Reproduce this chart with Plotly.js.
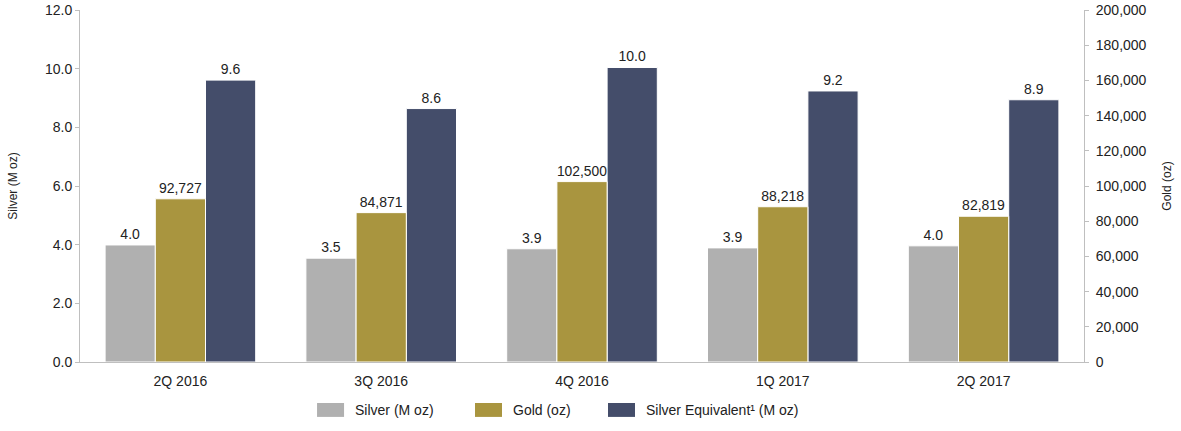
<!DOCTYPE html>
<html>
<head>
<meta charset="utf-8">
<script src="https://cdn.plot.ly/plotly-3.0.1.min.js"></script>
<style>html,body{margin:0;padding:0;background:#fff;}#chart{width:1181px;height:431px;}</style>
</head>
<body>
<div id="chart"></div>
<script>
const quarters = ["2Q 2016", "3Q 2016", "4Q 2016", "1Q 2017", "2Q 2017"];
const silverMoz = [3.99, 3.54, 3.86, 3.89, 3.96];
const goldOz = [92727, 84871, 102500, 88218, 82819];
const silverEqMoz = [9.61, 8.64, 10.04, 9.24, 8.94];
const seriesNames = ["Silver (M oz)", "Gold (oz)", "Silver Equivalent¹ (M oz)"];
const seriesColors = ["#b0b0b0", "#a9953f", "#444d6a"];
const leftTicks = [0, 2, 4, 6, 8, 10, 12];
const rightTicks = [0, 20000, 40000, 60000, 80000, 100000, 120000, 140000, 160000, 180000, 200000];

const FONT = "Liberation Sans, Arial, sans-serif";
const TXT = "#222";

function barTrace(i, y, yaxis, labels) {
  return {
    type: "bar", name: seriesNames[i], x: quarters, y: y,
    yaxis: yaxis, offsetgroup: String(i + 1),
    marker: {color: seriesColors[i], line: {color: "#ffffff", width: 1}},
    text: labels, textposition: "outside",
    textfont: {family: FONT, size: 14, color: TXT}, cliponaxis: false,
    hoverinfo: "skip", showlegend: false
  };
}

const traces = [
  barTrace(0, silverMoz, "y", silverMoz.map(v => v.toFixed(1))),
  barTrace(1, goldOz, "y2", goldOz.map(v => v.toLocaleString("en-US"))),
  barTrace(2, silverEqMoz, "y", silverEqMoz.map(v => v.toFixed(1)))
];

// custom legend (wide swatches like the reference)
const legendSwatchX = [0.2361, 0.3934, 0.5259];
const swatchW = 0.0269;
const shapes = seriesNames.map((n, i) => ({
  type: "rect", xref: "paper", yref: "paper",
  x0: legendSwatchX[i], x1: legendSwatchX[i] + swatchW, y0: -0.156, y1: -0.1165,
  fillcolor: seriesColors[i], line: {width: 0}
}));
const annotations = seriesNames.map((n, i) => ({
  xref: "paper", yref: "paper", x: legendSwatchX[i] + swatchW + 0.0092, y: -0.1364,
  xanchor: "left", yanchor: "middle", showarrow: false, text: n,
  font: {family: FONT, size: 14, color: TXT}
}));

const layout = {
  width: 1181, height: 431,
  margin: {l: 80, r: 97, t: 10, b: 69, autoexpand: false},
  paper_bgcolor: "#fff", plot_bgcolor: "#fff",
  font: {family: FONT, size: 14, color: TXT},
  barmode: "group", bargap: 0.25, bargroupgap: 0,
  showlegend: false,
  shapes: shapes, annotations: annotations,
  xaxis: {
    type: "category", showline: true, linecolor: "#bfbfbf", linewidth: 1,
    ticks: "", showgrid: false, zeroline: false, ticklabelstandoff: 6,
    tickfont: {family: FONT, size: 14, color: TXT}
  },
  yaxis: {
    range: [0, 12], tickvals: leftTicks, ticktext: leftTicks.map(v => v.toFixed(1)),
    showline: true, linecolor: "#bfbfbf", linewidth: 1,
    ticks: "outside", ticklen: 4, tickcolor: "#bfbfbf",
    showgrid: false, zeroline: false,
    tickfont: {family: FONT, size: 14, color: TXT},
    title: {text: "Silver (M oz)", font: {family: FONT, size: 12, color: TXT}, standoff: 24}
  },
  yaxis2: {
    overlaying: "y", side: "right", range: [0, 200000],
    tickvals: rightTicks, ticktext: rightTicks.map(v => v.toLocaleString("en-US")),
    showline: true, linecolor: "#bfbfbf", linewidth: 1,
    ticks: "outside", ticklen: 4, tickcolor: "#bfbfbf", ticklabelstandoff: 4,
    showgrid: false, zeroline: false,
    tickfont: {family: FONT, size: 14, color: TXT},
    title: {text: "Gold (oz)", font: {family: FONT, size: 12, color: TXT}, standoff: 16}
  }
};

Plotly.newPlot("chart", traces, layout, {displayModeBar: false, staticPlot: true});
</script>
</body>
</html>
